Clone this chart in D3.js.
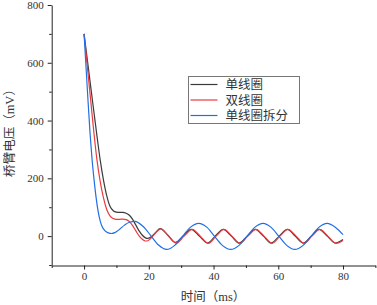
<!DOCTYPE html>
<html>
<head>
<meta charset="utf-8">
<script src="https://cdn.jsdelivr.net/npm/d3@7"></script>
<style>
  body { margin: 0; background: #fff; }
  svg { display: block; }
</style>
</head>
<body>
<svg id="chart" width="377" height="305"></svg>
<script>
// values (time in ms, voltage in mV)
const seriesNames = ['单线圈', '双线圈', '单线圈拆分'];
const seriesColors = ['#3b3b3b', '#ec3a3f', '#1f6fe6'];

const singleCoil = [
  [0, 700], [2, 522], [4, 345], [5, 262], [6, 194], [7, 140], [8, 103], [9, 88],
  [10, 83], [11, 82], [12, 82], [13, 79], [14, 72], [15, 58], [16, 38], [17, 18],
  [18, 3], [19, -6], [19.7, -8], [21, 0], [22.2, 14], [23.5, 26], [25.9, 3],
  [28.2, -22], [30.6, 0], [33.1, 23], [35.6, 0], [38.1, -24], [40.5, 0], [43.0, 23],
  [45.5, 0], [47.9, -24], [50.4, 0], [52.9, 23], [55.4, 0], [57.8, -24], [60.3, 0],
  [62.8, 23], [65.2, 0], [67.7, -24], [70.2, 0], [72.6, 23], [75.1, 0], [77.6, -24],
  [80, -12]
];

const doubleCoil = [
  [0, 700], [1, 588], [2, 475], [3, 362], [4, 262], [5, 188], [6, 132], [7, 92],
  [8, 70], [9, 61], [10, 58], [11, 58], [12, 59], [13, 57], [14, 50], [15, 36],
  [16, 18], [17, 1], [18, -11], [19, -17], [19.5, -17], [20.5, -9], [22, 10],
  [23.7, 25], [26.1, 1], [28.5, -24], [30.9, 0], [33.4, 23], [35.9, 0], [38.4, -25],
  [40.8, 0], [43.2, 23], [45.7, 0], [48.1, -25], [50.6, 0], [53.1, 23], [55.6, 0],
  [58.1, -25], [60.5, 0], [63.0, 23], [65.5, 0], [68.0, -25], [70.4, 0], [72.8, 23],
  [75.3, 0], [77.9, -25], [80, -15]
];

const splitCoil = [
  [0, 700], [1, 510], [1.85, 355], [2.5, 262], [3.1, 194], [3.7, 135], [4.4, 82],
  [5, 52], [5.5, 35], [6.5, 18], [7.5, 11], [8.5, 9], [9.5, 12], [11, 24],
  [12.5, 38], [14, 48], [15.7, 51], [18.2, 34], [20.6, 2], [23, -31], [25.5, -46],
  [28, -32], [30.4, -1], [32.9, 31], [35.4, 44], [37.9, 31], [40.3, -1], [42.8, -33],
  [45.3, -46], [47.8, -33], [50.3, -1], [52.8, 31], [55.3, 44], [57.7, 31],
  [60.2, -1], [62.7, -33], [65.1, -46], [67.6, -33], [70.1, -1], [72.6, 31],
  [75.1, 44], [77.6, 31], [80, 5]
];

const xTicks = [0, 20, 40, 60, 80];
const xMinorTicks = [-10, 10, 30, 50, 70, 90];
const yTicks = [0, 200, 400, 600, 800];
const yMinorTicks = [-100, 100, 300, 500, 700];

const X_DOMAIN = [-10, 90];
const Y_DOMAIN = [-100, 800];
const SERIF = '"Liberation Serif", "Times New Roman", "Noto Sans CJK SC", serif';
const CJK = '"Liberation Serif", "Noto Sans CJK SC", serif';

const svg = d3.select('#chart');
const x = d3.scaleLinear().domain(X_DOMAIN).range([51.7, 375.4]);
const y = d3.scaleLinear().domain(Y_DOMAIN).range([265, 5]);

// axes
const xAxis = svg.append('g').attr('transform', `translate(0,${y(-100) + 0.5})`);
xAxis.call(d3.axisBottom(x).tickValues(xTicks).tickSizeInner(4).tickSizeOuter(0).tickPadding(3));
xAxis.append('g').selectAll('line')
  .data(xMinorTicks).enter().append('line')
  .attr('x1', d => x(d) + 0.5).attr('x2', d => x(d) + 0.5)
  .attr('y1', 0).attr('y2', 2.5)
  .attr('stroke', '#222');

const yAxis = svg.append('g').attr('transform', `translate(${x(-10)},0)`);
yAxis.call(d3.axisLeft(y).tickValues(yTicks).tickSizeInner(4).tickSizeOuter(0).tickPadding(4));
yAxis.append('g').selectAll('line')
  .data(yMinorTicks).enter().append('line')
  .attr('y1', d => y(d) + 0.5).attr('y2', d => y(d) + 0.5)
  .attr('x1', 0).attr('x2', -2.5)
  .attr('stroke', '#222');

svg.selectAll('.domain, .tick line').attr('stroke', '#222').attr('stroke-width', 1);
svg.selectAll('.tick text')
  .attr('font-family', SERIF).attr('font-size', '11px').attr('fill', '#333');

// curves
const line = d3.line()
  .x(d => x(d[0]))
  .y(d => y(d[1]))
  .curve(d3.curveMonotoneX);

const allSeries = [singleCoil, doubleCoil, splitCoil];
svg.append('g').selectAll('path')
  .data(allSeries).enter().append('path')
  .attr('d', line)
  .attr('fill', 'none')
  .attr('stroke', (d, i) => seriesColors[i])
  .attr('stroke-width', 1.2);

// axis titles
svg.append('text')
  .attr('x', 213).attr('y', 301)
  .attr('text-anchor', 'middle')
  .attr('font-family', CJK).attr('font-size', '12.5px').attr('fill', '#333')
  .text('时间（ms）');

svg.append('text')
  .attr('transform', 'translate(14,130) rotate(-90)')
  .attr('text-anchor', 'middle')
  .attr('font-family', CJK).attr('font-size', '12.5px').attr('fill', '#333')
  .text('桥臂电压（mV）');

// legend
const legend = svg.append('g').attr('transform', 'translate(188.5,76.5)');
legend.append('rect')
  .attr('width', 111).attr('height', 47)
  .attr('fill', '#fff').attr('stroke', '#777').attr('stroke-width', 1);
const rows = legend.selectAll('g.row')
  .data(seriesNames).enter().append('g')
  .attr('class', 'row')
  .attr('transform', (d, i) => `translate(0,${8 + i * 15.5})`);
rows.append('line')
  .attr('x1', 2).attr('x2', 29)
  .attr('stroke', (d, i) => seriesColors[i]).attr('stroke-width', 1.2);
rows.append('text')
  .attr('x', 37).attr('dy', '0.36em')
  .attr('font-family', CJK).attr('font-size', '12.5px').attr('fill', '#333')
  .text(d => d);
</script>
</body>
</html>
